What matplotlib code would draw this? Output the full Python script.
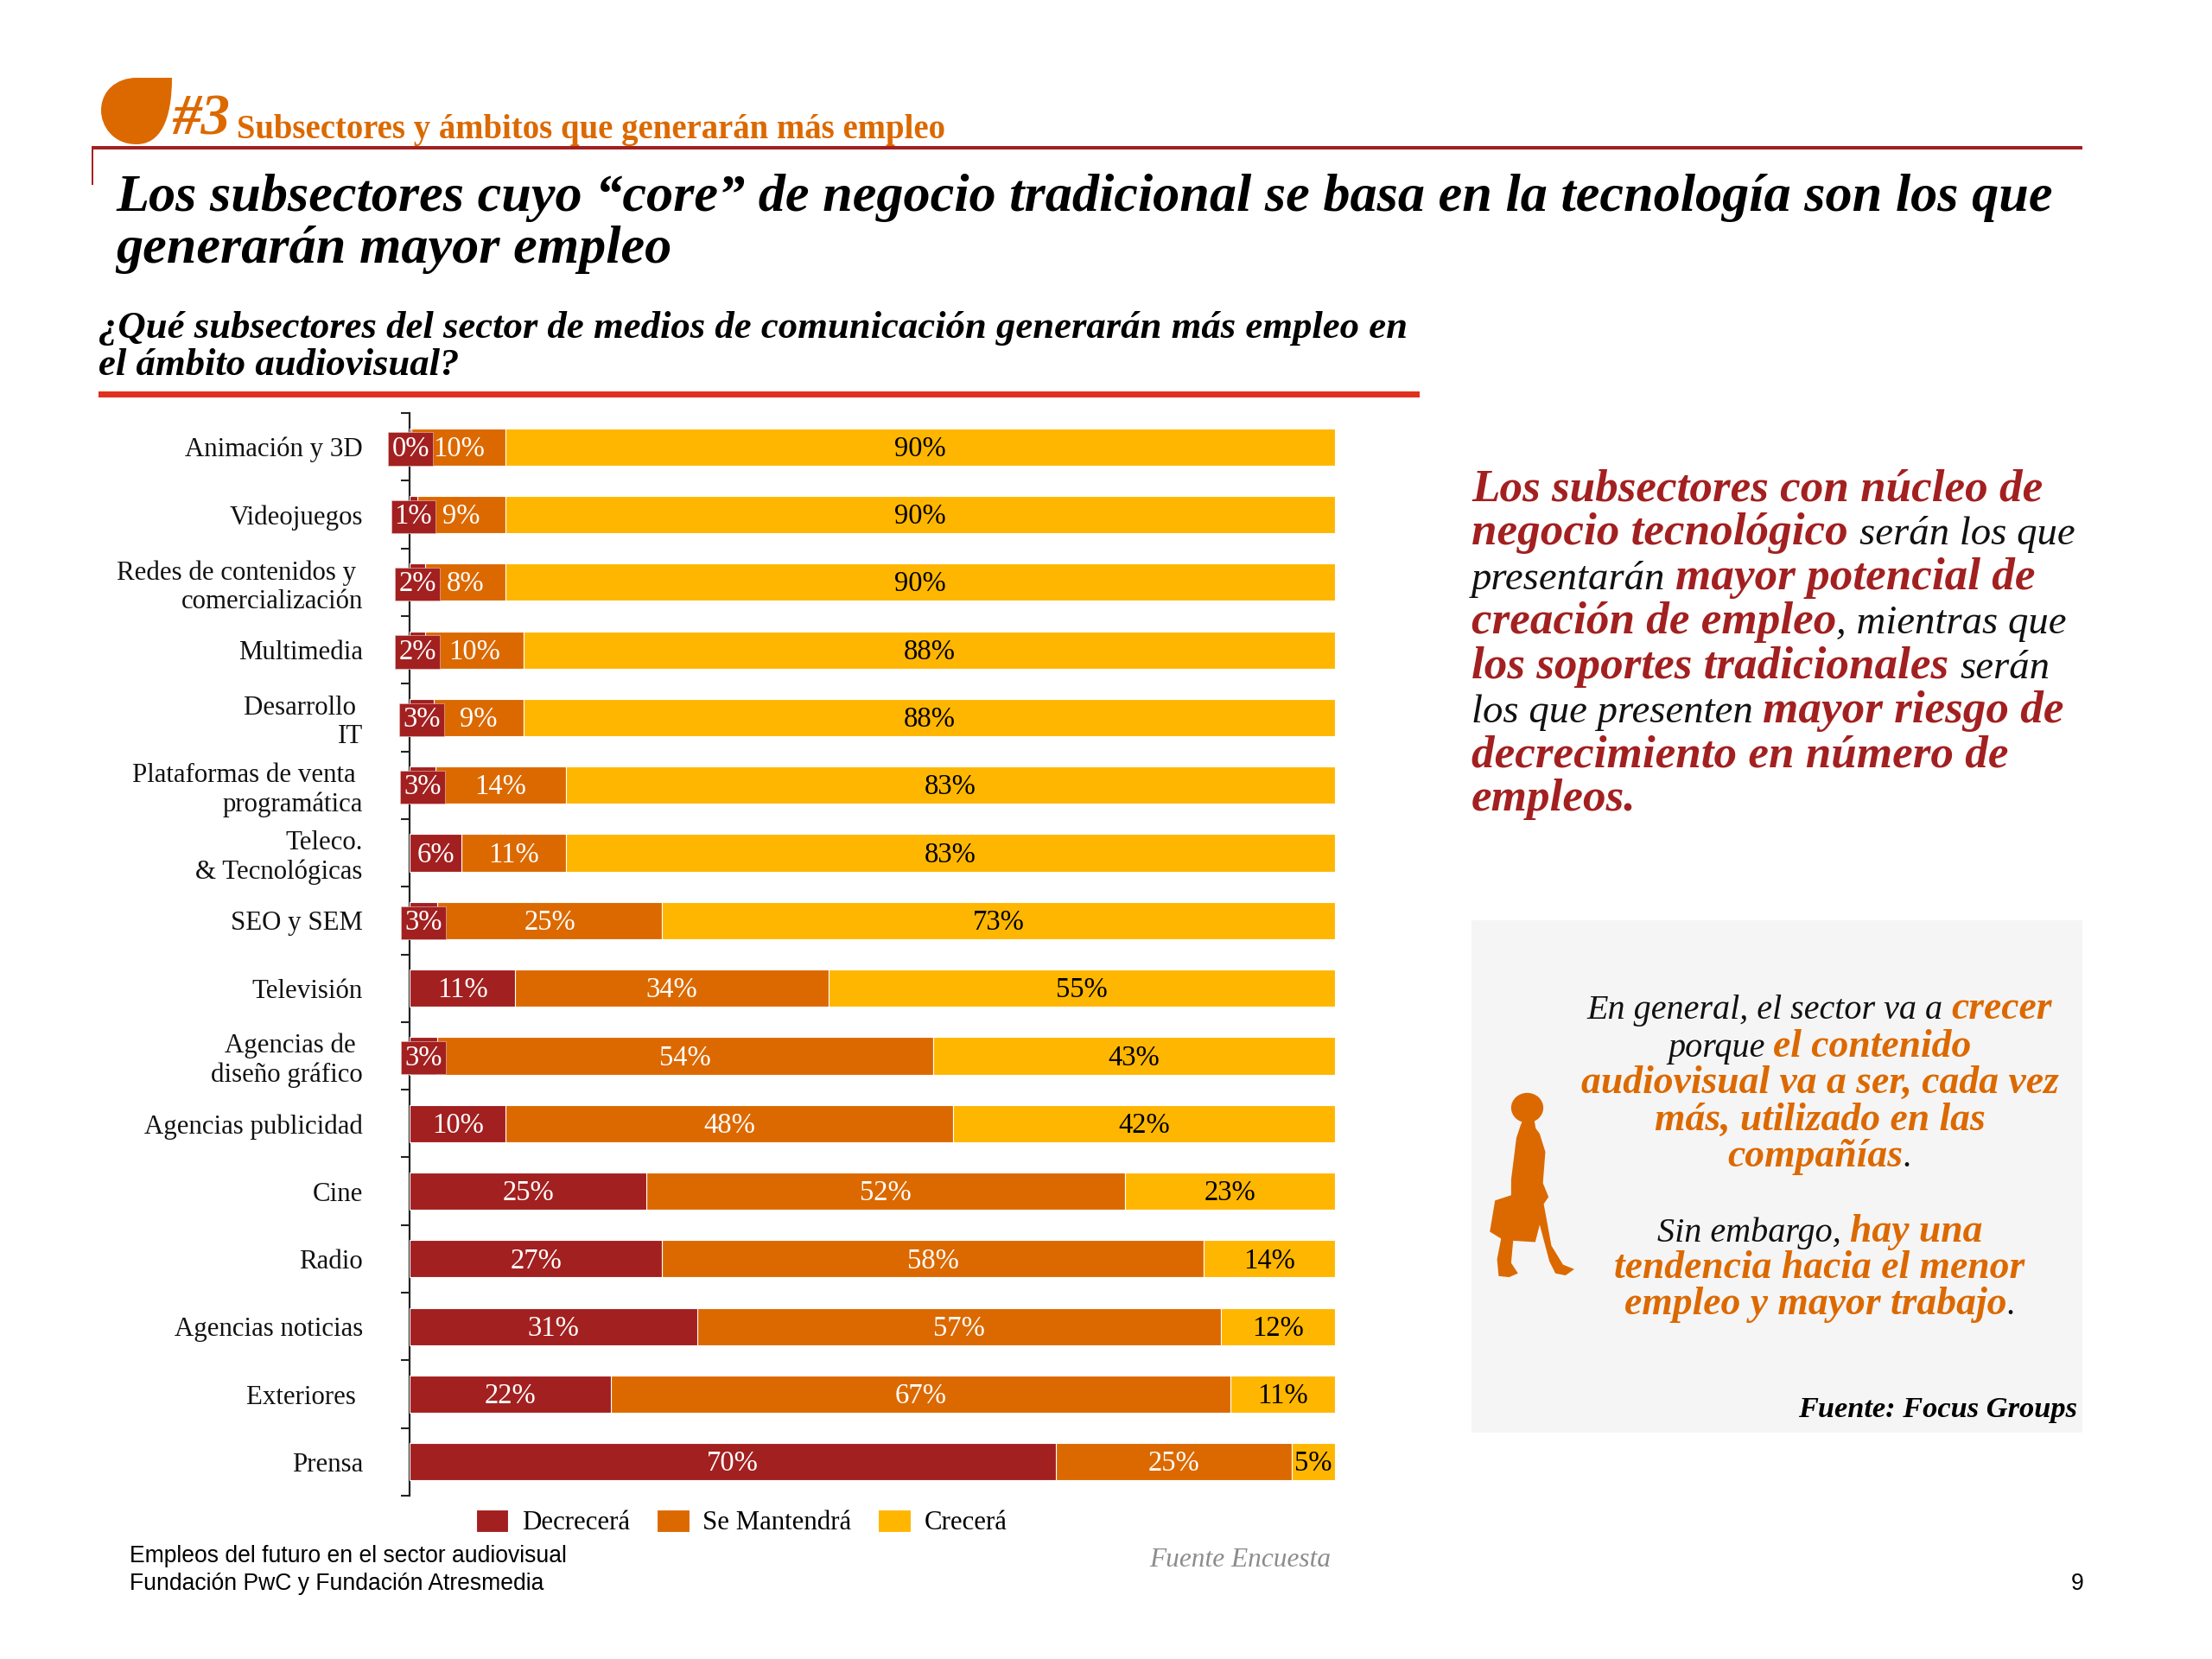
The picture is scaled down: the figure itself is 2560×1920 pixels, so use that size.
import matplotlib
matplotlib.use("Agg")
import matplotlib.pyplot as plt
from matplotlib.patches import PathPatch, Rectangle, Polygon, Ellipse
from matplotlib.path import Path

W, H = 2560, 1920
SERIF = "Liberation Serif"
SANS = "Liberation Sans"
DARK_RED = "#A32020"
ORANGE = "#DC6900"
YELLOW = "#FFB600"
RULE = "#E0301E"

categories = ["Animación y 3D", "Videojuegos", "Redes de contenidos y \ncomercialización",
              "Multimedia", "Desarrollo \nIT", "Plataformas de venta \nprogramática",
              "Teleco.\n& Tecnológicas", "SEO y SEM", "Televisión",
              "Agencias de \ndiseño gráfico", "Agencias publicidad", "Cine", "Radio",
              "Agencias noticias", "Exteriores ", "Prensa"]
# segment lengths
decrecera = [0.2, 0.8, 1.7, 1.7, 2.6, 2.8, 5.6, 3.0, 11.4, 3.0, 10.4, 25.6, 27.3, 31.1, 21.8, 69.8]
mantendra = [10.2, 9.6, 8.7, 10.6, 9.7, 14.1, 11.3, 24.3, 33.9, 53.6, 48.3, 51.7, 58.5, 56.6, 66.9, 25.5]
crecera = [89.6, 89.6, 89.6, 87.7, 87.7, 83.1, 83.1, 72.7, 54.7, 43.4, 41.3, 22.7, 14.2, 12.3, 11.3, 4.7]
# percentages printed on the bars
lab_dec = [0, 1, 2, 2, 3, 3, 6, 3, 11, 3, 10, 25, 27, 31, 22, 70]
lab_man = [10, 9, 8, 10, 9, 14, 11, 25, 34, 54, 48, 52, 58, 57, 67, 25]
lab_cre = [90, 90, 90, 88, 88, 83, 83, 73, 55, 43, 42, 23, 14, 12, 11, 5]
series_names = ["Decrecerá", "Se Mantendrá", "Crecerá"]

fig = plt.figure(figsize=(W / 100, H / 100), dpi=100, facecolor="white")
renderer = fig.canvas.get_renderer()


def fx(x):
    return x / W


def fy(y):
    return 1 - y / H


def measure(s, size, **kw):
    t = fig.text(0, 0, "x" + s + "x", fontsize=size, **kw)
    w = t.get_window_extent(renderer).width
    t.remove()
    t = fig.text(0, 0, "xx", fontsize=size, **kw)
    w -= t.get_window_extent(renderer).width
    t.remove()
    return w


def fit(s, px, **kw):
    return 40 * px / measure(s, 40, **kw)


BI = dict(family=SERIF, weight="bold", style="italic")
IT = dict(family=SERIF, style="italic")
BO = dict(family=SERIF, weight="bold")


def runs(x, y, parts, size, it_scale=1.0, align="left"):
    sizes = [size * it_scale if st is IT else size for s, st, c in parts]
    widths = [measure(p[0], z, **p[1]) for p, z in zip(parts, sizes)]
    total = sum(widths)
    if align == "center":
        x -= total / 2
    elif align == "right":
        x -= total
    for (s, st, c), w, z in zip(parts, widths, sizes):
        fig.text(fx(x), fy(y), s, fontsize=z, color=c, va="baseline", ha="left", **st)
        x += w


def line(x0, x1, y, color, px):
    fig.add_artist(Rectangle((fx(x0), fy(y + px / 2)), (x1 - x0) / W, px / H,
                             transform=fig.transFigure, facecolor=color, edgecolor="none"))


# Header ------------------------------------------------------------
P = fig.transFigure
drop = Path([(fx(199), fy(90)), (fx(199), fy(140)), (fx(185), fy(167)), (fx(158), fy(167)),
             (fx(130), fy(167)), (fx(117), fy(145)), (fx(117), fy(128)),
             (fx(117), fy(105)), (fx(135), fy(90)), (fx(158), fy(90)), (fx(199), fy(90))],
            [Path.MOVETO, Path.CURVE4, Path.CURVE4, Path.CURVE4, Path.CURVE4, Path.CURVE4,
             Path.CURVE4, Path.CURVE4, Path.CURVE4, Path.CURVE4, Path.LINETO])
fig.add_artist(PathPatch(drop, transform=P, facecolor=ORANGE, edgecolor="none"))
fig.text(fx(199), fy(155), "#3", fontsize=fit("#3", 67, **BI), color=ORANGE, **BI)
s = "Subsectores y ámbitos que generarán más empleo"
fig.text(fx(274), fy(160), s, fontsize=fit(s, 817, **BO), color=ORANGE, **BO)
line(106, 2410, 171, DARK_RED, 3)
fig.add_artist(Rectangle((fx(106), fy(214)), 2 / W, 44 / H, transform=P, facecolor=DARK_RED, edgecolor="none"))

t1 = "Los subsectores cuyo “core” de negocio tradicional se basa en la tecnología son los que"
ts = fit(t1, 2241, **BI)
fig.text(fx(134), fy(244), t1, fontsize=ts, color="black", **BI)
fig.text(fx(134), fy(304), "generarán mayor empleo", fontsize=ts, color="black", **BI)

q1 = "¿Qué subsectores del sector de medios de comunicación generarán más empleo en"
qs = fit(q1, 1514, **BI)
fig.text(fx(114), fy(391), q1, fontsize=qs, color="black", **BI)
fig.text(fx(114), fy(434), "el ámbito audiovisual?", fontsize=qs, color="black", **BI)
line(114, 1643, 456, RULE, 7)

# Chart -------------------------------------------------------------
ax = fig.add_axes([fx(474), fy(1731), (1545 - 474) / W, (1731 - 478) / H])
n = len(categories)
ypos = list(range(n))
lefts2 = [a for a in decrecera]
lefts3 = [a + b for a, b in zip(decrecera, mantendra)]
bh = 0.55
ax.barh(ypos, decrecera, height=bh, color=DARK_RED, edgecolor="white", linewidth=0.8,
        label=series_names[0], zorder=3)
ax.barh(ypos, mantendra, height=bh, left=lefts2, color=ORANGE, edgecolor="white", linewidth=0.8,
        label=series_names[1], zorder=2)
ax.barh(ypos, crecera, height=bh, left=lefts3, color=YELLOW, edgecolor="white", linewidth=0.8,
        label=series_names[2], zorder=2)
ax.set_xlim(0, 100)
ax.set_ylim(n - 0.5, -0.5)
ax.xaxis.set_visible(False)
for sp in ("top", "right", "bottom"):
    ax.spines[sp].set_visible(False)
ax.spines["left"].set_linewidth(1.6)
ax.spines["left"].set_color("#222222")
ax.set_yticks([i - 0.5 for i in range(n + 1)])
ax.set_yticklabels([])
ax.tick_params(axis="y", which="major", length=7, width=1.5, color="#222222")
ax.set_yticks(ypos, minor=True)
lab_size = fit("Agencias publicidad", 253, family=SERIF)
ax.set_yticklabels(categories, minor=True, fontsize=lab_size, family=SERIF, color="#111111",
                   linespacing=1.2)
ax.tick_params(axis="y", which="minor", length=0, pad=39)

val_size = 23.5
dy = 0.03
for i in ypos:
    small = lab_dec[i] <= 3
    box = dict(boxstyle="square,pad=0.12", facecolor=DARK_RED, edgecolor="#E8C8C8", linewidth=0.4) if small else None
    ax.text(decrecera[i] / 2, i + dy, f"{lab_dec[i]}%", ha="center", va="center", color="white",
            fontsize=val_size, family=SERIF, bbox=box, zorder=6, clip_on=False)
    ax.text(lefts2[i] + mantendra[i] / 2, i + dy, f"{lab_man[i]}%", ha="center", va="center", color="white",
            fontsize=val_size, family=SERIF, zorder=5)
    ax.text(lefts3[i] + crecera[i] / 2, i + dy, f"{lab_cre[i]}%", ha="center", va="center", color="black",
            fontsize=val_size, family=SERIF, zorder=5)

ax.legend(loc="center", bbox_to_anchor=(fx(858), fy(1762)), bbox_transform=P, ncol=3, frameon=False,
          prop=dict(family=SERIF, size=lab_size), handlelength=1.22, handleheight=0.95,
          handletextpad=0.5, columnspacing=1.0, borderpad=0)

# Right column ------------------------------------------------------
R = lambda s: (s, BI, DARK_RED)
N = lambda s: (s, IT, "#111111")
para = [
    [R("Los subsectores con núcleo de")],
    [R("negocio tecnológico "), N("serán los que")],
    [N("presentarán "), R("mayor potencial de")],
    [R("creación de empleo"), N(", mientras que")],
    [R("los soportes tradicionales "), N("serán")],
    [N("los que presenten "), R("mayor riesgo de")],
    [R("decrecimiento en número de")],
    [R("empleos.")],
]
psize = fit("Los subsectores con núcleo de", 660, **BI)
p_it = (699 - measure("negocio tecnológico ", psize, **BI)) / measure("serán los que", psize, **IT)
for y, parts in zip([579, 630, 682, 733, 785, 836, 887, 938], para):
    runs(1703, y, parts, psize, it_scale=p_it)

fig.add_artist(Rectangle((fx(1703), fy(1658)), (2410 - 1703) / W, (1658 - 1065) / H, transform=P,
                         facecolor="#F5F5F5", edgecolor="none"))
O = lambda s: (s, BI, ORANGE)
box_lines = [
    (1179, [N("En general, el sector va a "), O("crecer")]),
    (1223, [N("porque "), O("el contenido")]),
    (1265, [O("audiovisual va a ser, cada vez")]),
    (1308, [O("más, utilizado en las")]),
    (1350, [O("compañías"), N(".")]),
    (1437, [N("Sin embargo, "), O("hay una")]),
    (1479, [O("tendencia hacia el menor")]),
    (1521, [O("empleo y mayor trabajo"), N(".")]),
]
bsize = fit("audiovisual va a ser, cada vez", 552, **BI)
for y, parts in box_lines:
    runs(2106, y, parts, bsize, it_scale=0.88, align="center")
s = "Fuente: Focus Groups"
fig.text(fx(2404), fy(1640), s, fontsize=fit(s, 323, **BI), ha="right", color="black", **BI)

# silhouette
zx = lambda v: 1700 + v / 2.148
zy = lambda v: 1060 + v / 2.49
body = [(135, 585), (162, 585), (166, 612), (176, 628), (190, 680), (184, 770), (198, 810), (186, 830),
        (205, 950), (234, 1005), (262, 1018), (240, 1036), (215, 1030), (200, 995), (176, 890), (165, 940),
        (110, 936), (105, 1000), (122, 1030), (100, 1041), (74, 1038), (70, 990), (80, 930), (52, 910),
        (65, 820), (105, 805), (105, 760), (118, 640), (128, 605)]
fig.add_artist(Polygon([(fx(zx(a)), fy(zy(b))) for a, b in body], closed=True, transform=P,
                       facecolor=ORANGE, edgecolor="none"))
fig.add_artist(Ellipse((fx(zx(145)), fy(zy(553))), 80 / 2.148 / W, 86 / 2.49 / H, transform=P,
                       facecolor=ORANGE, edgecolor="none"))

# Footer ------------------------------------------------------------
f1 = "Empleos del futuro en el sector audiovisual"
fs = fit(f1, 506, family=SANS)
fig.text(fx(150), fy(1808), f1, fontsize=fs, family=SANS, color="black")
fig.text(fx(150), fy(1840), "Fundación PwC y Fundación Atresmedia", fontsize=fs, family=SANS, color="black")
s = "Fuente Encuesta"
fig.text(fx(1540), fy(1813), s, fontsize=fit(s, 210, **IT), ha="right", color="#8C8C8C", **IT)
fig.text(fx(2411), fy(1840), "9", fontsize=fs, family=SANS, ha="right", color="black")

fig.savefig("out.png", dpi=100, facecolor="white")
